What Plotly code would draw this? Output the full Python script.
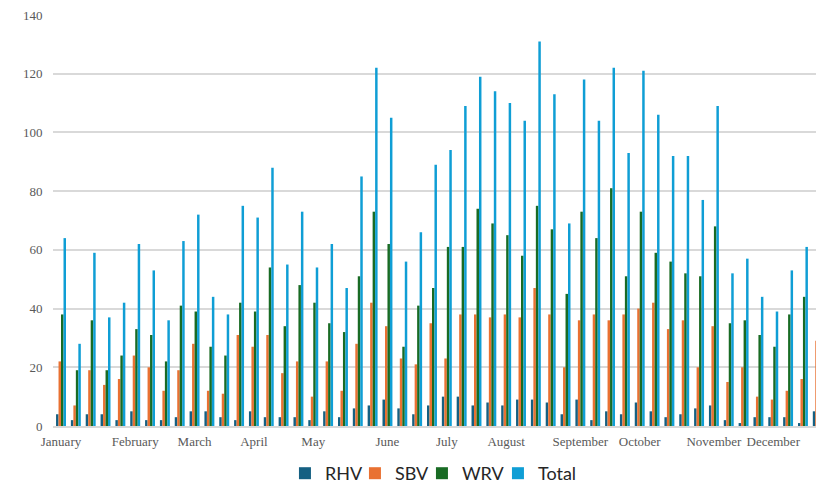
import plotly.graph_objects as go

weeks = list(range(52))

rhv = [4, 2, 4, 4, 2, 5, 2, 2, 3, 5, 5, 3, 2, 5, 3, 3, 3, 2,
       5, 3, 6, 7, 9, 6, 4, 7, 10, 10, 7, 8, 7, 9, 9, 8, 4, 9,
       2, 5, 4, 8, 5, 3, 4, 6, 7, 2, 1, 3, 3, 3, 1, 5]
sbv = [22, 7, 19, 14, 16, 24, 20, 12, 19, 28, 12, 11, 31, 27, 31, 18, 22, 10,
       22, 12, 28, 42, 34, 23, 21, 35, 23, 38, 38, 37, 38, 37, 47, 38, 20, 36,
       38, 36, 38, 40, 42, 33, 36, 20, 34, 15, 20, 10, 9, 12, 16, 29]
wrv = [38, 19, 36, 19, 24, 33, 31, 22, 41, 39, 27, 24, 42, 39, 54, 34, 48, 42,
       35, 32, 51, 73, 62, 27, 41, 47, 61, 61, 74, 69, 65, 58, 75, 67, 45, 73,
       64, 81, 51, 73, 59, 56, 52, 51, 68, 35, 36, 31, 27, 38, 44, 45]
total = [64, 28, 59, 37, 42, 62, 53, 36, 63, 72, 44, 38, 75, 71, 88, 55, 73, 54,
         62, 47, 85, 122, 105, 56, 66, 89, 94, 109, 119, 114, 110, 104, 131, 113, 69, 118,
         104, 122, 93, 121, 106, 92, 92, 77, 109, 52, 57, 44, 39, 53, 61, 79]

month_weeks = [0, 5, 9, 13, 17, 22, 26, 30, 35, 39, 44, 48]
month_names = ["January", "February", "March", "April", "May", "June", "July",
               "August", "September", "October", "November", "December"]

series = [("RHV", rhv, "#156082", 25), ("SBV", sbv, "#E97132", 22),
          ("WRV", wrv, "#196B24", 31), ("Total", total, "#0F9ED5", 45)]

fig = go.Figure()
for name, vals, col, lw in series:
    fig.add_trace(go.Bar(x=weeks, y=vals, name=name, marker_color=col,
                         marker_line_width=0, legendwidth=lw))

fig.update_layout(
    width=816, height=492,
    margin=dict(l=53, r=0, t=15, b=66),
    paper_bgcolor="white", plot_bgcolor="white",
    barmode="group", bargap=0.33, bargroupgap=0,
    showlegend=True,
    legend=dict(orientation="h", x=0.304, xanchor="left",
                yref="container", y=0.0, yanchor="bottom",
                font=dict(family="Lato", size=18, color="#262626"),
                itemwidth=30, traceorder="normal"),
    font=dict(family="Liberation Serif", size=13, color="#595959"),
)
fig.update_xaxes(range=[-0.54, 50.88], tickmode="array", tickvals=month_weeks,
                 ticktext=month_names, showgrid=False, zeroline=False,
                 showline=True, linecolor="#d9d9d9", linewidth=2,
                 ticks="outside", ticklen=2, tickcolor="rgba(0,0,0,0)",
                 tickfont=dict(family="Liberation Serif", size=13, color="#595959"))
fig.update_yaxes(range=[0, 140], dtick=20, showgrid=True, gridcolor="#d9d9d9",
                 gridwidth=1.5, zeroline=False, showline=False,
                 ticks="outside", ticklen=7, tickcolor="rgba(0,0,0,0)",
                 tickfont=dict(family="Liberation Serif", size=13, color="#595959"))

fig.write_html("out.html", config={"displayModeBar": False},
               post_script="document.body.style.margin='0';")
